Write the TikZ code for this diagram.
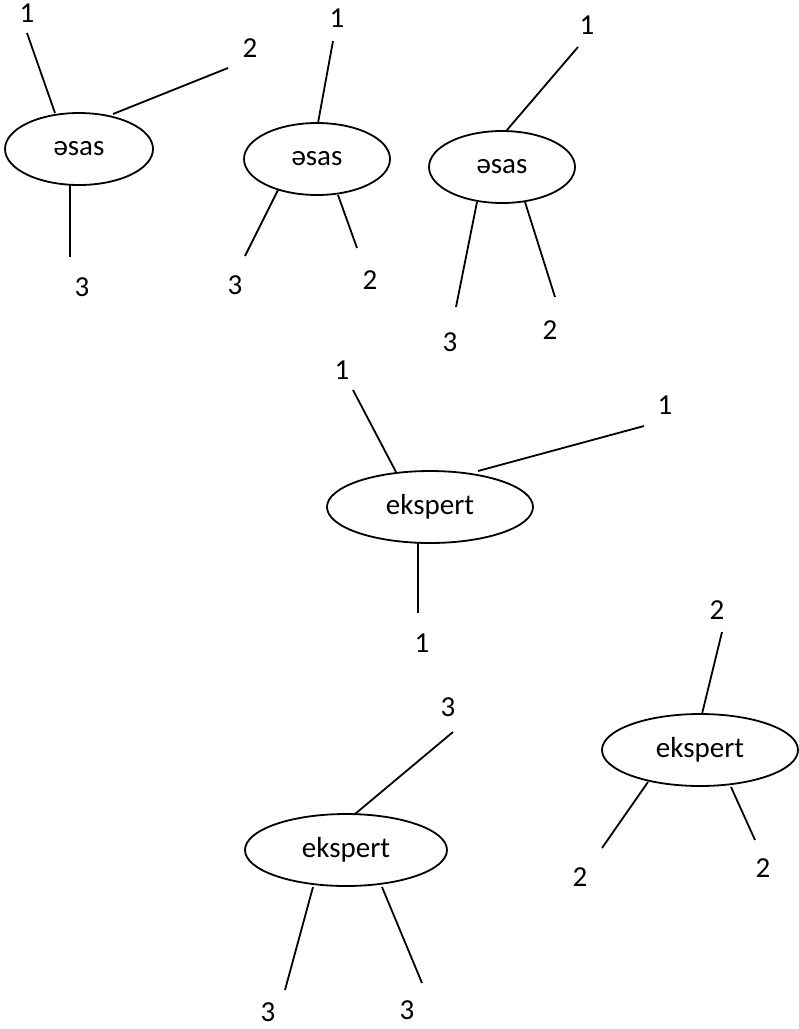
\documentclass[tikz,border=0pt]{standalone}
\usepackage{fontspec}
\setmainfont{Carlito}
\usetikzlibrary{shapes.geometric}
\begin{document}
\begin{tikzpicture}[x=1pt,y=-1pt,
  bubble/.style={draw, line width=1.8pt, ellipse, inner sep=0pt, font=\fontsize{29}{34}\selectfont},
  num/.style={font=\fontsize{29}{34}\selectfont, inner sep=0pt},
  link/.style={line width=1.8pt}]
\useasboundingbox (0,0) rectangle (799,1029);
% ellipses
\node[bubble, minimum width=148pt, minimum height=72pt] (e1) at (79,149) {əsas};
\node[bubble, minimum width=146pt, minimum height=72pt] (e2) at (317,159) {əsas};
\node[bubble, minimum width=146pt, minimum height=72pt] (e3) at (502,167) {əsas};
\node[bubble, minimum width=206pt, minimum height=72pt] (e4) at (430,507) {ekspert};
\node[bubble, minimum width=196pt, minimum height=72pt] (e5) at (700,750) {ekspert};
\node[bubble, minimum width=202pt, minimum height=72pt] (e6) at (346,850) {ekspert};
% labels
\node[num] (l1a) at (27,13) {1};
\node[num] (l1b) at (250,48) {2};
\node[num] (l1c) at (82,287) {3};
\node[num] (l2a) at (337,18) {1};
\node[num] (l2b) at (235,285) {3};
\node[num] (l2c) at (370,280) {2};
\node[num] (l3a) at (587,25) {1};
\node[num] (l3b) at (450,342) {3};
\node[num] (l3c) at (550,330) {2};
\node[num] (l4a) at (342,370) {1};
\node[num] (l4b) at (665,405) {1};
\node[num] (l4c) at (422,643) {1};
\node[num] (l5a) at (717,610) {2};
\node[num] (l5b) at (580,877) {2};
\node[num] (l5c) at (763,868) {2};
\node[num] (l6a) at (448,707) {3};
\node[num] (l6b) at (268,1012) {3};
\node[num] (l6c) at (407,1010) {3};
% connector ends
\coordinate (a1s) at (55,113);  \coordinate (a1e) at (27,33);
\coordinate (b1s) at (113,114); \coordinate (b1e) at (228,68);
\coordinate (c1s) at (70,185);  \coordinate (c1e) at (70,257);
\coordinate (a2s) at (318,123); \coordinate (a2e) at (333,41);
\coordinate (b2s) at (278,190); \coordinate (b2e) at (245,256);
\coordinate (c2s) at (338,195); \coordinate (c2e) at (357,248);
\coordinate (a3s) at (507,130); \coordinate (a3e) at (578,47);
\coordinate (b3s) at (477,202); \coordinate (b3e) at (456,307);
\coordinate (c3s) at (525,202); \coordinate (c3e) at (555,297);
\coordinate (a4s) at (396,472); \coordinate (a4e) at (353,390);
\coordinate (b4s) at (478,471); \coordinate (b4e) at (644,426);
\coordinate (c4s) at (418,543); \coordinate (c4e) at (418,613);
\coordinate (a5s) at (702,714); \coordinate (a5e) at (722,632);
\coordinate (b5s) at (648,782); \coordinate (b5e) at (602,848);
\coordinate (c5s) at (731,787); \coordinate (c5e) at (755,840);
\coordinate (a6s) at (355,814); \coordinate (a6e) at (453,732);
\coordinate (b6s) at (313,887); \coordinate (b6e) at (285,990);
\coordinate (c6s) at (382,887); \coordinate (c6e) at (422,983);
\foreach \i in {1,...,6}{
  \draw[link] (a\i s) -- (a\i e);
  \draw[link] (b\i s) -- (b\i e);
  \draw[link] (c\i s) -- (c\i e);
}
\end{tikzpicture}
\end{document}
